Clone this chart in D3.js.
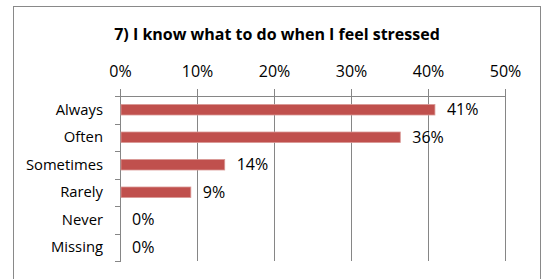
<!DOCTYPE html>
<html lang="en">
<head>
    <meta charset="UTF-8">
    <title>I know what to do when I feel stressed</title>
    <script src="https://d3js.org/d3.v7.min.js"></script>
    <style>
        body { margin: 0; background: #fff; }
        svg { display: block; }
        text { font-family: "Open Sans", "Noto Sans", Lato, sans-serif; }
        .title { font-size: 16px; font-weight: bold; fill: #000; }
        .x.axis text { font-size: 16px; fill: #000; }
        .y.axis text { font-size: 14.8px; fill: #000; }
        .axis path, .axis line { stroke: #868686; shape-rendering: crispEdges; }
        .grid line { stroke: #868686; shape-rendering: crispEdges; }
        .label { font-size: 16px; fill: #000; }
    </style>
</head>
<body>
    <div id="chart"></div>
    <script>
        const categories = ["Always", "Often", "Sometimes", "Rarely", "Never", "Missing"];
        const values = [0.409, 0.364, 0.136, 0.092, 0, 0];
        const valueLabels = ["41%", "36%", "14%", "9%", "0%", "0%"];
        const ticks = [0, 0.1, 0.2, 0.3, 0.4, 0.5];

        const width = 545, height = 279;
        const plot = { left: 120, right: 505, top: 96, bottom: 261 };

        const svg = d3.select("#chart").append("svg")
            .attr("width", width)
            .attr("height", height);

        // chart frame (bottom edge falls outside the window)
        svg.append("rect")
            .attr("x", 13.5).attr("y", 6.5)
            .attr("width", 527).attr("height", 300)
            .attr("fill", "#fff")
            .attr("stroke", "#898989");

        svg.append("text")
            .attr("class", "title")
            .attr("x", 277).attr("y", 40)
            .attr("text-anchor", "middle")
            .text("7) I know what to do when I feel stressed");

        const x = d3.scaleLinear().domain([0, 0.5]).range([plot.left, plot.right]);
        const y = d3.scaleBand().domain(categories).range([plot.top, plot.bottom]).padding(0);

        // vertical gridlines
        svg.append("g").attr("class", "grid")
            .selectAll("line")
            .data(ticks.slice(1))
            .enter().append("line")
            .attr("x1", d => Math.round(x(d)) + 0.5).attr("x2", d => Math.round(x(d)) + 0.5)
            .attr("y1", plot.top).attr("y2", plot.bottom);

        const xAxis = d3.axisTop(x).tickValues(ticks)
            .tickFormat(d3.format(".0%"))
            .tickSize(7).tickSizeOuter(7).tickPadding(12);
        svg.append("g")
            .attr("class", "x axis")
            .attr("transform", "translate(0," + plot.top + ")")
            .call(xAxis);

        const yAxis = d3.axisLeft(y).tickSize(0).tickSizeOuter(0).tickPadding(17);
        const yg = svg.append("g")
            .attr("class", "y axis")
            .attr("transform", "translate(" + plot.left + ",0)")
            .call(yAxis);

        // category boundary ticks
        yg.selectAll(".bound")
            .data(d3.range(categories.length + 1))
            .enter().append("line")
            .attr("class", "bound")
            .attr("x1", -5).attr("x2", 0)
            .attr("y1", i => Math.round(plot.top + i * y.step()) + 0.5)
            .attr("y2", i => Math.round(plot.top + i * y.step()) + 0.5);

        const barH = 10.5;
        svg.selectAll(".bar")
            .data(categories)
            .enter().append("rect")
            .attr("class", "bar")
            .attr("x", x(0) + 1)
            .attr("y", d => y(d) + y.bandwidth() / 2 - barH / 2)
            .attr("width", (d, i) => Math.max(0, x(values[i]) - x(0) - 1))
            .attr("height", barH)
            .attr("fill", "#C0504D")
            .attr("stroke", (d, i) => values[i] > 0 ? "#D99795" : "none")
            .attr("stroke-width", 0.8);

        svg.selectAll(".label")
            .data(categories)
            .enter().append("text")
            .attr("class", "label")
            .attr("x", (d, i) => x(values[i]) + 12)
            .attr("y", d => y(d) + y.bandwidth() / 2)
            .attr("dy", "0.35em")
            .text((d, i) => valueLabels[i]);
    </script>
</body>
</html>
